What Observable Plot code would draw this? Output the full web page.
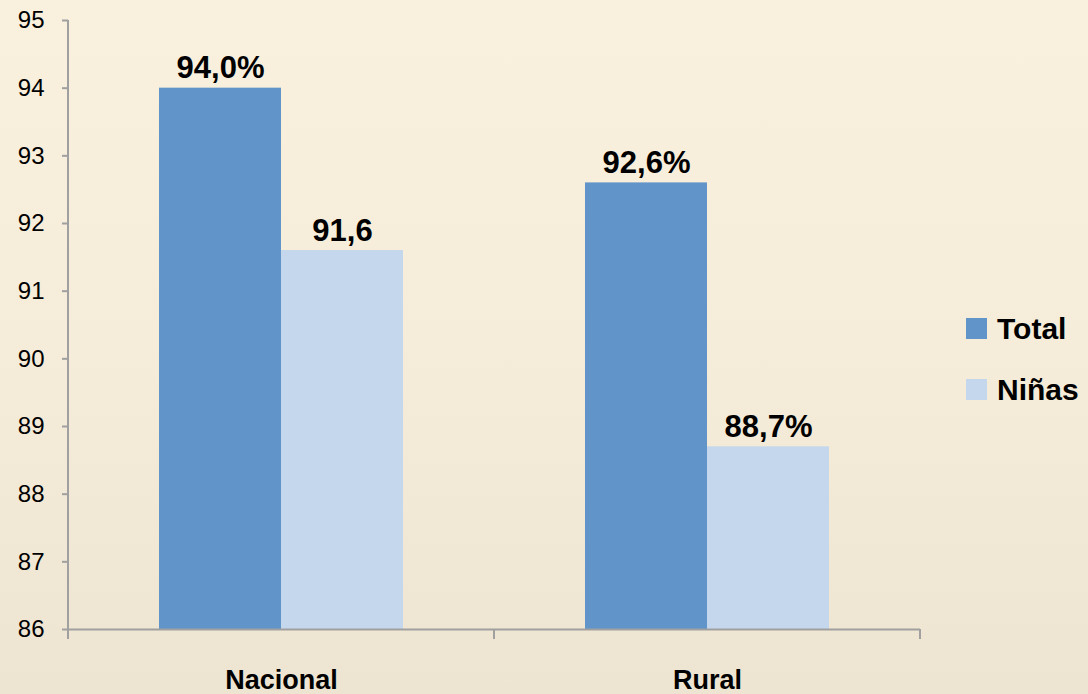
<!DOCTYPE html>
<html>
<head>
<meta charset="utf-8">
<script src="https://cdn.jsdelivr.net/npm/d3@7"></script>
<script src="https://cdn.jsdelivr.net/npm/@observablehq/plot@0.6"></script>
<style>
  html, body { margin: 0; padding: 0; }
  body {
    width: 1088px; height: 694px; overflow: hidden; position: relative;
    background: linear-gradient(to bottom, #FAF0DE 0%, #F5ECD9 50%, #EDE5D1 100%);
    font-family: "Liberation Sans", Arial, sans-serif;
  }
  #legend { position: absolute; left: 966px; top: 318px; }
  .item { display: flex; align-items: center; height: 21px; margin-bottom: 40px; }
  .swatch { width: 21px; height: 21px; margin-right: 10px; }
  .lbl { font-size: 30px; font-weight: bold; color: #000; line-height: 21px; }
</style>
</head>
<body>
<div id="chart"></div>
<div id="legend"></div>
<script>
const groups = ["Nacional", "Rural"];
const series = ["Total", "Niñas"];
const totalValues = [94.0, 92.6];
const ninasValues = [91.6, 88.7];
const totalLabels = ["94,0%", "92,6%"];
const ninasLabels = ["91,6", "88,7%"];
const yTicks = [86, 87, 88, 89, 90, 91, 92, 93, 94, 95];
const colors = ["#6195C9", "#C5D7EC"];

const rows = groups.flatMap((g, i) => [
  {group: g, series: series[0], value: totalValues[i], label: totalLabels[i]},
  {group: g, series: series[1], value: ninasValues[i], label: ninasLabels[i]}
]);

const yMin = yTicks[0], yMax = yTicks[yTicks.length - 1];
const axisGrey = "#A0A0A0";

const chart = Plot.plot({
  width: 1088,
  height: 694,
  marginLeft: 67,
  marginRight: 168,
  marginTop: 20,
  marginBottom: 65,
  style: {background: "transparent", fontFamily: "'Liberation Sans', Arial, sans-serif", color: "black"},
  fx: {domain: groups, padding: 0, label: null},
  x: {domain: series, paddingInner: 0, paddingOuter: 0.74, axis: null},
  y: {domain: [yMin, yMax], label: null},
  color: {domain: series, range: colors},
  marks: [
    Plot.barY(rows, {fx: "group", x: "series", y1: yMin, y2: "value", fill: "series"}),
    Plot.ruleY([yMin], {stroke: axisGrey, strokeWidth: 2}),
    Plot.text(rows, {fx: "group", x: "series", y: "value", text: "label", lineAnchor: "bottom", dy: -10, fontSize: 31, fontWeight: "bold", fill: "black"}),
    Plot.axisY({ticks: yTicks, tickSize: 6, tickPadding: 18, fontSize: 24, stroke: axisGrey, strokeWidth: 2, fill: "black", label: null, tickFormat: d => String(d)}),
    Plot.axisFx({anchor: "bottom", tickSize: 0, tickPadding: 40, fontSize: 27, fontWeight: "bold", fill: "black", label: null})
  ]
});

document.getElementById("chart").appendChild(chart);

// y-axis line and category boundary ticks, positioned via Plot's own scales
const fx = chart.scale("fx");
const ys = chart.scale("y");
const svg = d3.select(chart);
const g = svg.append("g").attr("stroke", axisGrey).attr("stroke-width", 2);
const left = fx.apply(groups[0]);
g.append("line").attr("x1", left).attr("x2", left).attr("y1", ys.apply(yMax)).attr("y2", ys.apply(yMin));
const edges = groups.map(d => fx.apply(d)).concat([fx.apply(groups[groups.length - 1]) + fx.bandwidth]);
edges.forEach(x => {
  g.append("line").attr("x1", x).attr("x2", x).attr("y1", ys.apply(yMin)).attr("y2", ys.apply(yMin) + 10);
});

// legend
const legend = d3.select("#legend");
series.forEach((s, i) => {
  const it = legend.append("div").attr("class", "item");
  it.append("div").attr("class", "swatch").style("background", colors[i]);
  it.append("div").attr("class", "lbl").text(s);
});
</script>
</body>
</html>
